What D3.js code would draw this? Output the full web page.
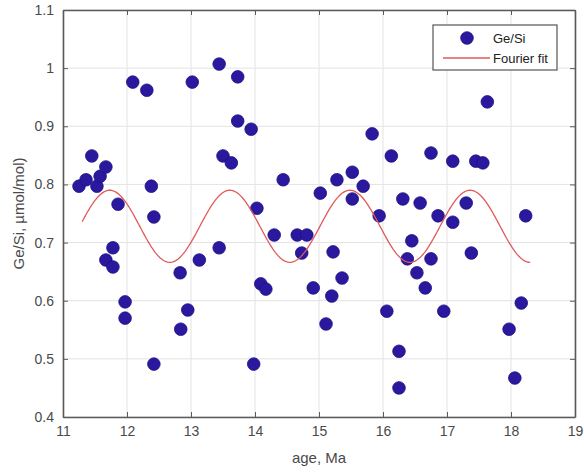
<!DOCTYPE html>
<html>
<head>
<meta charset="utf-8">
<script src="https://cdn.jsdelivr.net/npm/d3@7"></script>
<style>
  html, body { margin: 0; padding: 0; background: #fff; }
  svg { display: block; font-family: "Liberation Sans", Arial, sans-serif; }
</style>
</head>
<body>
<svg id="chart" width="584" height="474"></svg>
<script>
// Ge/Si measurements against age (Ma)
const ages = [
  11.25, 11.36, 11.45, 11.53, 11.58, 11.67, 11.86, 11.78, 11.67, 11.78, 11.97, 11.97,
  12.09, 12.31, 12.38, 12.42, 12.42, 12.83, 12.95, 12.84, 13.13, 13.02,
  13.44, 13.73, 13.50, 13.63, 13.73, 13.94, 13.44, 13.98, 14.03, 14.09, 14.17,
  14.30, 14.44, 14.66, 14.81, 14.73, 14.91, 15.02, 15.11, 15.20, 15.22, 15.36,
  15.28, 15.52, 15.69, 15.52, 15.83, 15.94,
  16.13, 16.06, 16.25, 16.25, 16.31, 16.58, 16.45, 16.38, 16.75, 16.53, 16.66,
  16.75, 16.86, 16.95, 17.09, 17.09, 17.30, 17.38, 17.45, 17.56, 17.63,
  17.97, 18.16, 18.06, 18.23
];
const geSi = [
  0.797, 0.808, 0.849, 0.797, 0.814, 0.830, 0.766, 0.691, 0.670, 0.658, 0.598, 0.570,
  0.976, 0.962, 0.797, 0.744, 0.491, 0.648, 0.584, 0.551, 0.670, 0.976,
  1.007, 0.985, 0.849, 0.837, 0.909, 0.895, 0.691, 0.491, 0.759, 0.629, 0.620,
  0.713, 0.808, 0.713, 0.713, 0.682, 0.622, 0.785, 0.560, 0.608, 0.684, 0.639,
  0.808, 0.821, 0.797, 0.775, 0.887, 0.746,
  0.849, 0.582, 0.513, 0.450, 0.775, 0.768, 0.703, 0.672, 0.672, 0.648, 0.622,
  0.854, 0.746, 0.582, 0.840, 0.735, 0.768, 0.682, 0.840, 0.837, 0.942,
  0.551, 0.596, 0.467, 0.746
];

// One-term Fourier fit: y = a0 + amp * cos(w * (x - xPeak))
const fitA0 = 0.728;
const fitAmp = 0.062;
const fitPeriod = 1.877;
const fitPeak = 11.73;
const fitRange = [11.3, 18.3];

const xTicks = [11, 12, 13, 14, 15, 16, 17, 18, 19];
const yTicks = [0.4, 0.5, 0.6, 0.7, 0.8, 0.9, 1, 1.1];
const legendLabels = ["Ge/Si", "Fourier fit"];

const svg = d3.select("#chart");
const L = 63, R = 575, T = 10, B = 417;

const x = d3.scaleLinear().domain([11, 19]).range([L, R]);
const y = d3.scaleLinear().domain([0.4, 1.1]).range([B, T]);

const axisColor = "#5a5a5a";
const textColor = "#4a4a4a";

// grid
const grid = svg.append("g");
grid.selectAll("line.gx").data(xTicks).join("line")
  .attr("x1", d => x(d)).attr("x2", d => x(d))
  .attr("y1", T).attr("y2", B)
  .attr("stroke", "#e3e3e3").attr("stroke-width", 1);
grid.selectAll("line.gy").data(yTicks).join("line")
  .attr("x1", L).attr("x2", R)
  .attr("y1", d => y(d)).attr("y2", d => y(d))
  .attr("stroke", "#e3e3e3").attr("stroke-width", 1);

// axes (ticks pointing inward, labels outside)
const fmtY = d => d3.format("~g")(d);
const axBottom = svg.append("g").attr("transform", `translate(0,${B})`)
  .call(d3.axisBottom(x).tickValues(xTicks).tickSizeInner(-5).tickSizeOuter(0).tickPadding(9));
const axTop = svg.append("g").attr("transform", `translate(0,${T})`)
  .call(d3.axisTop(x).tickValues(xTicks).tickSizeInner(-5).tickSizeOuter(0).tickFormat(""));
const axLeft = svg.append("g").attr("transform", `translate(${L},0)`)
  .call(d3.axisLeft(y).tickValues(yTicks).tickSizeInner(-5).tickSizeOuter(0).tickPadding(9).tickFormat(fmtY));
const axRight = svg.append("g").attr("transform", `translate(${R},0)`)
  .call(d3.axisRight(y).tickValues(yTicks).tickSizeInner(-5).tickSizeOuter(0).tickFormat(""));

[axBottom, axTop, axLeft, axRight].forEach(g => {
  g.select(".domain").attr("stroke", axisColor).attr("stroke-width", 1.6);
  g.selectAll(".tick line").attr("stroke", axisColor).attr("stroke-width", 1);
  g.selectAll(".tick text").attr("fill", textColor).attr("font-size", 14)
    .attr("font-family", "'Liberation Sans', Arial, sans-serif");
});

// points
svg.append("g").selectAll("circle").data(ages.map((a, i) => [a, geSi[i]])).join("circle")
  .attr("cx", d => x(d[0])).attr("cy", d => y(d[1])).attr("r", 6.3)
  .attr("fill", "#2a199f").attr("stroke", "#1d1080").attr("stroke-width", 0.8);

// fit curve
const w = 2 * Math.PI / fitPeriod;
const fitX = d3.range(fitRange[0], fitRange[1] + 1e-9, 0.02);
const line = d3.line().x(d => x(d)).y(d => y(fitA0 + fitAmp * Math.cos(w * (d - fitPeak))));
svg.append("path").datum(fitX).attr("d", line)
  .attr("fill", "none").attr("stroke", "#e05a5a").attr("stroke-width", 1.3);

// axis titles
svg.append("text").attr("x", (L + R) / 2).attr("y", 463).attr("text-anchor", "middle")
  .attr("fill", textColor).attr("font-size", 15).text("age, Ma");
svg.append("text").attr("transform", `translate(24,${(T + B) / 2}) rotate(-90)`)
  .attr("text-anchor", "middle").attr("fill", textColor).attr("font-size", 15)
  .text("Ge/Si, µmol/mol)");

// legend
const lg = svg.append("g");
lg.append("rect").attr("x", 433).attr("y", 25).attr("width", 124).attr("height", 45)
  .attr("fill", "#fff").attr("stroke", "#555").attr("stroke-width", 1.2);
lg.append("circle").attr("cx", 467).attr("cy", 38).attr("r", 6.3)
  .attr("fill", "#2a199f").attr("stroke", "#1d1080").attr("stroke-width", 0.8);
lg.append("line").attr("x1", 443).attr("x2", 490).attr("y1", 58).attr("y2", 58)
  .attr("stroke", "#e05a5a").attr("stroke-width", 1.3);
lg.selectAll("text").data(legendLabels).join("text")
  .attr("x", 493).attr("y", (d, i) => 43 + i * 20)
  .attr("fill", "#222").attr("font-size", 13).text(d => d);
</script>
</body>
</html>
